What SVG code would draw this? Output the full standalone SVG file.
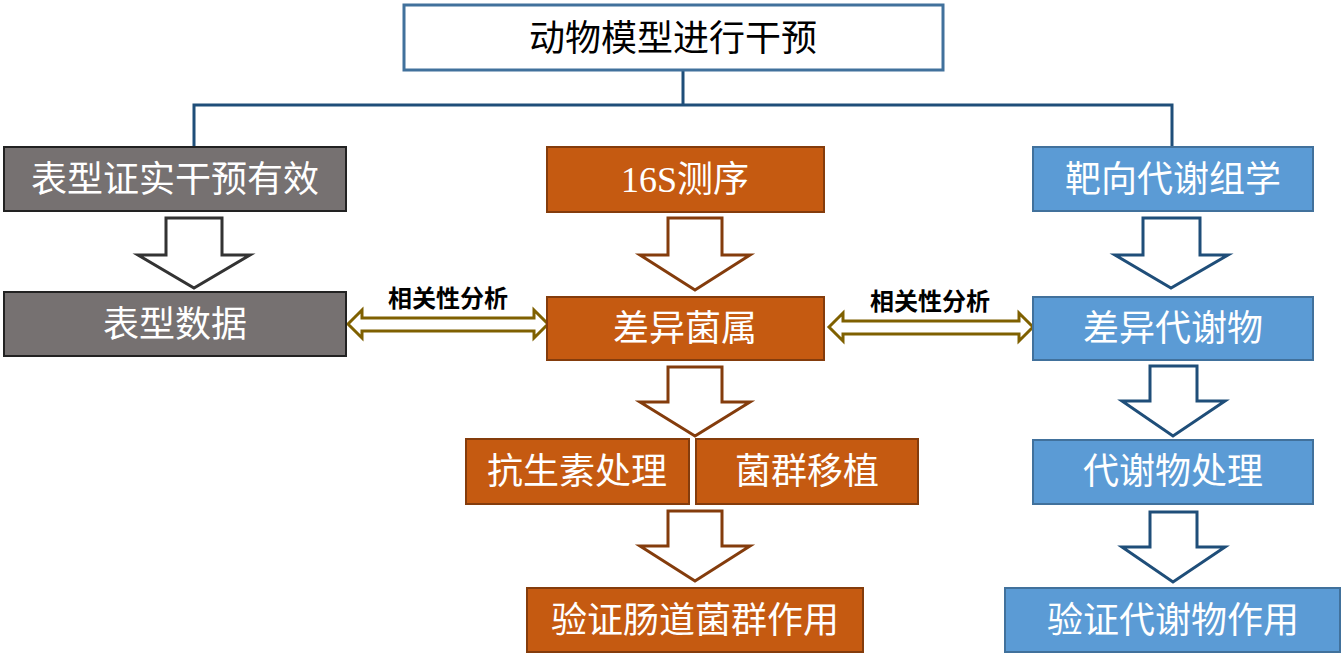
<svg xmlns="http://www.w3.org/2000/svg" width="1344" height="665" viewBox="0 0 1344 665">
<style>
text{font-family:"Liberation Serif","Noto Sans CJK SC",serif;text-anchor:middle;dominant-baseline:central}
.t{font-size:36px;fill:#fff}
.g rect{fill:#767171;stroke:#222;stroke-width:2}
.o rect{fill:#C55A11;stroke:#843C0C;stroke-width:2}
.b rect{fill:#5B9BD5;stroke:#41719C;stroke-width:2}
.ga{fill:#fff;stroke:#333;stroke-width:3}
.oa{fill:#fff;stroke:#843C0C;stroke-width:3}
.ba{fill:#fff;stroke:#1F4E79;stroke-width:3}
.da{fill:#fff;stroke:#7F6000;stroke-width:3}
.lb{font-size:24px;font-weight:bold;fill:#000}
</style>
<g id="connectors">
<path d="M683,70V105M194,148V105H1172V148" fill="none" stroke="#1F4E79" stroke-width="3"/>
<path class="ga" d="M166,218H222V255H250L194,288L138,255H166Z"/>
<path class="oa" d="M668,218H722V255H750L695,290L640,255H668Z"/>
<path class="ba" d="M1143,218H1200V255H1228L1171,288L1115,255H1143Z"/>
<path class="oa" d="M668,367H722V402H750L695,436L640,402H668Z"/>
<path class="oa" d="M668,511H722V546H750L695,581L640,546H668Z"/>
<path class="ba" d="M1150,366H1197V401H1225L1173,436L1122,401H1150Z"/>
<path class="ba" d="M1150,512H1197V547H1225L1173,582L1122,547H1150Z"/>
<path class="da" d="M348,324L362,310V318H534V310L548,324L534,338V331H362V338Z"/>
<path class="da" d="M829,327L843,313V321H1019V313L1033,327L1019,341V334H843V341Z"/>
<text class="lb" x="448" y="299">相关性分析</text>
<text class="lb" x="930" y="302">相关性分析</text>
</g>
<g id="top"><rect x="404" y="5" width="539" height="65" fill="#fff" stroke="#41719C" stroke-width="3"/><text x="673" y="39" font-size="36">动物模型进行干预</text></g>
<g id="n1" class="g"><rect x="4" y="147" width="342" height="64"/><text class="t" x="175" y="180">表型证实干预有效</text></g>
<g id="n2" class="g"><rect x="4" y="292" width="342" height="64"/><text class="t" x="175" y="325">表型数据</text></g>
<g id="n3" class="o"><rect x="547" y="147" width="277" height="65"/><text class="t" x="685" y="180">16S测序</text></g>
<g id="n4" class="o"><rect x="547" y="297" width="277" height="63"/><text class="t" x="685" y="329">差异菌属</text></g>
<g id="n5" class="o"><rect x="466" y="439" width="223" height="65"/><text class="t" x="577" y="472">抗生素处理</text></g>
<g id="n6" class="o"><rect x="696" y="439" width="222" height="65"/><text class="t" x="807" y="472">菌群移植</text></g>
<g id="n7" class="o"><rect x="527" y="588" width="336" height="64"/><text class="t" x="695" y="621">验证肠道菌群作用</text></g>
<g id="n8" class="b"><rect x="1033" y="147" width="280" height="64"/><text class="t" x="1173" y="180">靶向代谢组学</text></g>
<g id="n9" class="b"><rect x="1033" y="297" width="280" height="63"/><text class="t" x="1173" y="329">差异代谢物</text></g>
<g id="n10" class="b"><rect x="1033" y="440" width="280" height="64"/><text class="t" x="1173" y="472">代谢物处理</text></g>
<g id="n11" class="b"><rect x="1005" y="588" width="335" height="64"/><text class="t" x="1173" y="621">验证代谢物作用</text></g>
</svg>
